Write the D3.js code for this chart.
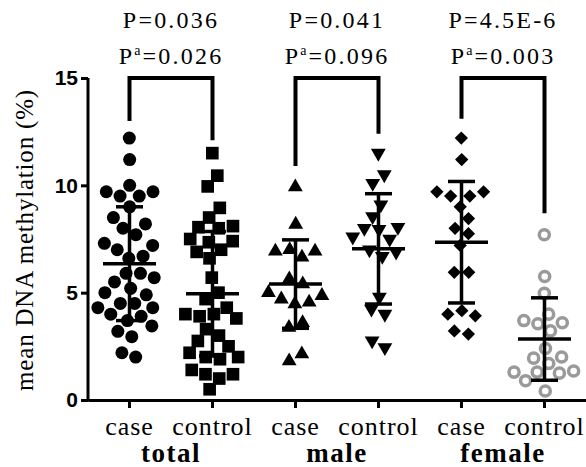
<!DOCTYPE html>
<html>
<head>
<meta charset="utf-8">
<script src="https://cdn.jsdelivr.net/npm/d3@7"></script>
<style>
  body { margin: 0; background: #fff; }
  svg { display: block; }
</style>
</head>
<body>
<div id="chart-area"></div>
<script>

// data (mean DNA methylation, %)
var groups = ["total", "male", "female"];
var subgroups = ["case", "control"];

var totalCase = [12.2, 11.2, 10.0, 9.7, 9.7, 9.5, 9.5, 9.0, 8.5, 8.2, 8.0, 7.7, 7.3, 7.2, 7.0,
    6.7, 6.6, 5.9, 5.9, 5.7, 5.5, 5.2, 5.0, 4.9, 4.5, 4.5, 4.3, 4.3, 4.0, 3.9, 3.7, 3.45,
    3.2, 2.95, 2.2, 2.0];
var totalControl = [11.5, 10.45, 9.95, 8.95, 8.5, 8.1, 8.05, 8.0, 7.5, 7.4, 7.35, 7.0, 6.9,
    6.6, 5.7, 5.0, 4.7, 4.3, 4.0, 4.0, 3.9, 3.8, 3.3, 3.0, 2.75, 2.5, 2.2, 2.0, 2.0, 1.9,
    1.4, 1.2, 1.2, 1.0, 0.5];
var maleCase = [9.92, 8.18, 7.0, 6.93, 6.93, 6.65, 5.64, 5.4, 5.0, 4.86, 4.7, 4.55, 4.47,
    3.6, 3.38, 2.14, 1.82];
var maleControl = [11.5, 10.5, 10.1, 9.1, 8.55, 8.05, 8.0, 7.95, 7.6, 7.5, 7.0, 6.9, 6.7,
    4.8, 4.24, 4.0, 2.76, 2.45];
var femaleCase = [12.2, 11.2, 9.7, 9.7, 9.5, 9.5, 9.0, 8.45, 8.0, 7.75, 7.2, 5.95, 5.95,
    4.16, 4.0, 3.92, 3.22, 3.07];
var femaleControl = [7.7, 5.75, 4.97, 4.0, 3.7, 3.6, 3.55, 3.22, 2.4, 2.0, 1.95, 1.7, 1.3,
    1.35, 1.3, 1.25, 0.9, 0.42];

// mean and SD bars as drawn
var means = [6.35, 4.95, 5.4, 7.04, 7.35, 2.84];
var sds = [2.65, 2.9, 2.06, 2.57, 2.83, 1.92];

// p values above each pair
var pLabels = ["P=0.036", "P=0.041", "P=4.5E-6"];
var paLabels = ["=0.026", "=0.096", "=0.003"];

// bracket: top and where each leg stops (in % units)
var bracketTop = 15;
var legEnds = [13.0, 12.1, 10.9, 12.4, 13.1, 8.7];

var yTicks = [0, 5, 10, 15];

var series = [totalCase, totalControl, maleCase, maleControl, femaleCase, femaleControl];
var keys = [];
groups.forEach(g => subgroups.forEach(s => keys.push(g + "-" + s)));

// SVG drawing area
var margin = {top: 78, right: 0, bottom: 67, left: 88};
var width = 586 - margin.left - margin.right,
    height = 467 - margin.top - margin.bottom;

var svg = d3.select("#chart-area").append("svg")
    .attr("width", width + margin.left + margin.right)
    .attr("height", height + margin.top + margin.bottom)
    .append("g")
    .attr("transform", `translate(${margin.left}, ${margin.top})`);

// Scales
var x = d3.scaleBand()
    .domain(keys)
    .range([0, width]);

var y = d3.scaleLinear()
    .domain([0, 15])
    .range([height, 0]);

var cx = k => x(k) + x.bandwidth() / 2;

var pFont = "'Liberation Serif', 'Times New Roman', serif";

// brackets
groups.forEach(function(g, i) {
    var x0 = cx(keys[i * 2]), x1 = cx(keys[i * 2 + 1]);
    var path = d3.path();
    path.moveTo(x0, y(legEnds[i * 2]));
    path.lineTo(x0, y(bracketTop));
    path.lineTo(x1, y(bracketTop));
    path.lineTo(x1, y(legEnds[i * 2 + 1]));
    svg.append("path")
        .attr("d", path.toString())
        .attr("fill", "none")
        .attr("stroke", "#000")
        .attr("stroke-width", 4)
        .attr("stroke-linejoin", "miter");

    var mid = (x0 + x1) / 2;
    svg.append("text")
        .attr("x", mid)
        .attr("y", 28 - margin.top)
        .attr("text-anchor", "middle")
        .style("font-family", pFont)
        .style("font-size", "24px")
        .style("letter-spacing", "2.2px")
        .text(pLabels[i]);

    var t = svg.append("text")
        .attr("x", mid)
        .attr("y", 64 - margin.top)
        .attr("text-anchor", "middle")
        .style("font-family", pFont)
        .style("font-size", "24px")
        .style("letter-spacing", "2.2px");
    t.append("tspan").text("P");
    t.append("tspan").attr("dy", -9).style("font-size", "14px").text("a");
    t.append("tspan").attr("dy", 9).text(paLabels[i]);
});

// points, spread sideways like a scatter dot plot
var symbols = [
    {type: d3.symbolCircle, size: 133, rotate: 0, fill: "#000", stroke: "none"},
    {type: d3.symbolSquare, size: 160, rotate: 0, fill: "#000", stroke: "none"},
    {type: d3.symbolTriangle, size: 95, rotate: 0, fill: "#000", stroke: "none"},
    {type: d3.symbolTriangle, size: 95, rotate: 180, fill: "#000", stroke: "none"},
    {type: d3.symbolSquare, size: 88, rotate: 45, fill: "#000", stroke: "none"},
    {type: d3.symbolCircle, size: 80, rotate: 0, fill: "none", stroke: "#9a9a9a"}
];

series.forEach(function(vals, i) {
    var c = cx(keys[i]);
    var nodes = vals.map((v, j) => ({v: v, x: c + (j % 2 ? 1 : -1), fy: y(v)}));
    var sim = d3.forceSimulation(nodes)
        .force("x", d3.forceX(c).strength(0.025))
        .force("collide", d3.forceCollide(7.2))
        .stop();
    for (var k = 0; k < 300; k++) sim.tick();

    var sym = symbols[i];
    svg.append("g")
        .selectAll("path")
        .data(nodes)
        .join("path")
        .attr("d", d3.symbol().type(sym.type).size(sym.size))
        .attr("transform", d => `translate(${d.x}, ${d.fy}) rotate(${sym.rotate})`)
        .attr("fill", sym.fill)
        .attr("stroke", sym.stroke)
        .attr("stroke-width", 3.5);
});

// mean +- SD
keys.forEach(function(k, i) {
    var c = cx(k);
    var g = svg.append("g")
        .attr("stroke", "#000")
        .attr("stroke-width", 3.5);
    g.append("line")
        .attr("x1", c).attr("x2", c)
        .attr("y1", y(means[i] - sds[i])).attr("y2", y(means[i] + sds[i]));
    g.append("line")
        .attr("x1", c - 26.5).attr("x2", c + 26.5)
        .attr("y1", y(means[i])).attr("y2", y(means[i]));
    [means[i] - sds[i], means[i] + sds[i]].forEach(function(v) {
        g.append("line")
            .attr("x1", c - 13.5).attr("x2", c + 13.5)
            .attr("y1", y(v)).attr("y2", y(v));
    });
});

// Axes
var xAxis = d3.axisBottom(x)
    .tickSize(8)
    .tickSizeOuter(0)
    .tickPadding(6)
    .tickFormat(d => d.split("-")[1]);
var yAxis = d3.axisLeft(y)
    .tickValues(yTicks)
    .tickSize(7)
    .tickSizeOuter(0)
    .tickPadding(3);

var gx = svg.append("g")
    .attr("class", "x-axis")
    .attr("transform", "translate(0," + height + ")")
    .call(xAxis);
gx.selectAll("path, line").attr("stroke", "#000").attr("stroke-width", 3);
gx.selectAll("text")
    .attr("fill", "#000")
    .attr("dy", null)
    .attr("y", 35)
    .style("font-family", "'Liberation Serif', serif")
    .style("font-size", "26px")
    .style("letter-spacing", "1px");

var gy = svg.append("g")
    .attr("class", "y-axis")
    .call(yAxis);
gy.selectAll("path, line").attr("stroke", "#000").attr("stroke-width", 3);
gy.select(".domain").attr("d", `M0,${height + 1.5}V${y(15)}`);
gy.selectAll("text")
    .attr("fill", "#000")
    .style("font-family", "'Liberation Sans', Arial, sans-serif")
    .style("font-weight", "bold")
    .style("font-size", "21px");

// group labels under each pair
groups.forEach(function(g, i) {
    svg.append("text")
        .attr("x", (cx(keys[i * 2]) + cx(keys[i * 2 + 1])) / 2)
        .attr("y", 462 - margin.top)
        .attr("text-anchor", "middle")
        .style("font-family", "'Liberation Serif', serif")
        .style("font-weight", "bold")
        .style("font-size", "27px")
        .style("letter-spacing", "1.5px")
        .text(g);
});

// y label
svg.append("text")
    .attr("transform", `translate(${33 - margin.left}, ${240 - margin.top}) rotate(-90)`)
    .attr("text-anchor", "middle")
    .style("font-family", "'Liberation Serif', serif")
    .style("font-size", "25px")
    .style("letter-spacing", "0.8px")
    .text("mean DNA methylation (%)");

</script>
</body>
</html>
